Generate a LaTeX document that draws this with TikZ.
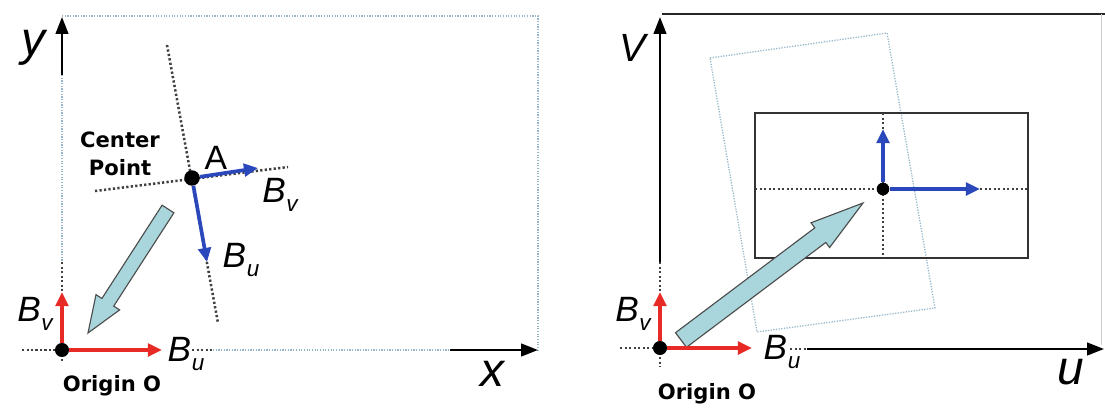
\documentclass[tikz,border=0pt]{standalone}
\usepackage{fontspec}
\setmainfont{Liberation Sans}
\newfontfamily\tagfont{DejaVu Sans}
\usetikzlibrary{arrows.meta,calc}
\definecolor{vecred}{RGB}{232,42,38}
\definecolor{vecblue}{RGB}{42,72,188}
\definecolor{shaftcyan}{RGB}{168,214,220}
\definecolor{gridblue}{RGB}{150,182,202}
\newcommand{\bvec}[1]{B\kern0.5pt\raisebox{-0.5ex}{\fontsize{16}{16}\selectfont #1}}
% block arrow: tail, tip, shaft half width, head half width, head length
\newcommand{\blockarrow}[5]{%
  \coordinate (neck) at ($(#2)!#5!(#1)$);
  \filldraw[block] ($(#1)!#3!90:(#2)$) -- ($(neck)!#3!90:(#2)$) -- ($(neck)!#4!90:(#2)$)
    -- (#2) -- ($(neck)!#4!-90:(#2)$) -- ($(neck)!#3!-90:(#2)$) -- ($(#1)!#3!-90:(#2)$) -- cycle;}

\begin{document}
\begin{tikzpicture}[
  x=0.025cm, y=-0.025cm,
  axis/.style={-{Triangle[length=12pt,width=9pt]}, line width=1.5pt, black},
  basis/.style={-{Triangle[length=10pt,width=9pt]}, line width=2.6pt},
  guide/.style={dash pattern=on 1.6pt off 1.6pt, line width=1.8pt, black!75},
  faint/.style={densely dotted, line width=0.9pt, gridblue},
  dot/.style={circle, fill=black, inner sep=0pt, minimum size=10pt},
  block/.style={fill=shaftcyan, draw=black!70, line width=0.8pt},
  vec/.style={font=\itshape\fontsize{25}{25}\selectfont, inner sep=0pt},
  axlbl/.style={font=\itshape\fontsize{34}{34}\selectfont, inner sep=0pt},
  tag/.style={font=\tagfont\bfseries\fontsize{15}{20}\selectfont, align=center, inner sep=0pt}
]
\useasboundingbox (0,0) rectangle (1105,409);

% left panel: image frame x-y
\draw[faint] (62,75) -- (62,262);
\draw[faint] (62,16) -- (538,16) -- (538,350);
\draw[faint] (213,350) -- (450,350);
\draw[guide] (22,350) -- (62,350);
\draw[guide] (62,262) -- (62,292);
\draw[guide] (62,350) -- (62,362);
\draw[guide] (192,350) -- (213,350);
\coordinate (ybase) at (62,75);
\coordinate (ytip) at (62,17);
\coordinate (xbase) at (450,350);
\coordinate (xtip) at (538,350);
\draw[axis] (ybase) -- (ytip);
\draw[axis] (xbase) -- (xtip);
\node[axlbl] (ylbl) at (33,48) {y};
\node[axlbl] (xlbl) at (492,374) {x};

% rotated guides through A
\coordinate (gu1) at (167,45);
\coordinate (gu2) at (218,323);
\coordinate (gv1) at (95,191);
\coordinate (gv2) at (288,167);
\draw[guide] (gu1) -- (gu2);
\draw[guide] (gv1) -- (gv2);
\node[tag] (cpoint) at (120,154) {Center\\Point};

\coordinate (tailL) at (168,209);
\coordinate (tipL) at (88,333);
\blockarrow{tailL}{tipL}{5pt}{10pt}{26pt}

\node[dot, minimum size=11pt] (A) at (192,178) {};
\node[font=\fontsize{24}{24}\selectfont, inner sep=0pt] (Albl) at (216,158) {A};
\coordinate (bvA) at (258,168);
\coordinate (buA) at (207,262);
\draw[basis, vecblue] (A) -- (bvA);
\draw[basis, vecblue] (A) -- (buA);
\node[vec] (bvAlbl) at (280,195) {\bvec{v}};
\node[vec] (buAlbl) at (241,260) {\bvec{u}};

\node[dot] (O1) at (62,350) {};
\coordinate (bvO1) at (62,292);
\coordinate (buO1) at (162,350);
\draw[basis, vecred] (O1) -- (bvO1);
\draw[basis, vecred] (O1) -- (buO1);
\node[vec] (bvO1lbl) at (35,314) {\bvec{v}};
\node[vec] (buO1lbl) at (186,354) {\bvec{u}};
\node[tag] (orgL) at (112,386) {Origin O};

% right panel: image frame u-v
\draw[line width=1.2pt, black!85] (662,14) -- (1105,14);
\draw[line width=0.5pt, black!20] (1101,14) -- (1101,345);
\draw[guide] (620,348) -- (660,348);
\draw[guide] (660,262) -- (660,292);
\draw[guide] (660,348) -- (660,367);
\draw[guide] (790,349) -- (807,349);
\coordinate (vbase) at (660,262);
\coordinate (vtip) at (660,17);
\coordinate (ubase) at (807,349);
\coordinate (utip) at (1104,349);
\draw[axis] (vbase) -- (vtip);
\draw[axis] (ubase) -- (utip);
\node[axlbl, font=\itshape\fontsize{28}{28}\selectfont] (vlbl) at (633,48) {V};
\node[axlbl] (ulbl) at (1071,372) {u};

\draw[faint] (710,58) -- (887,33) -- (935,308) -- (757,332) -- cycle;
\draw[line width=1.4pt, black!80] (755,113) rectangle (1028,258);
\draw[guide] (755,189) -- (1028,189);
\draw[guide] (883,113) -- (883,258);

\coordinate (tailR) at (681,340);
\coordinate (tipR) at (863,203);
\blockarrow{tailR}{tipR}{6.5pt}{11pt}{38pt}

\node[dot, minimum size=9pt] (C) at (883,189) {};
\coordinate (bvC) at (883,129);
\coordinate (buC) at (980,189);
\draw[basis, vecblue] (C) -- (bvC);
\draw[basis, vecblue] (C) -- (buC);

\node[dot] (O2) at (660,348) {};
\coordinate (bvO2) at (660,292);
\coordinate (buO2) at (752,348);
\draw[basis, vecred] (O2) -- (bvO2);
\draw[basis, vecred] (O2) -- (buO2);
\node[vec] (bvO2lbl) at (633,314) {\bvec{v}};
\node[vec] (buO2lbl) at (782,352) {\bvec{u}};
\node[tag] (orgR) at (707,394) {Origin O};
\end{tikzpicture}
\end{document}
